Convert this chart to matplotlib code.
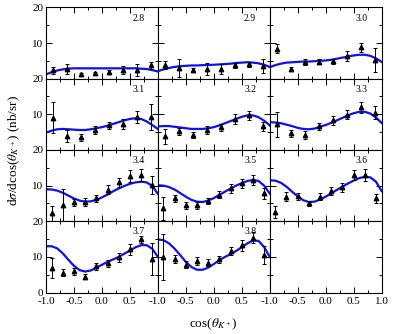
import numpy as np
import matplotlib
matplotlib.use("Agg")
import matplotlib.pyplot as plt

plt.rcParams['font.family'] = ['Liberation Serif', 'DejaVu Serif']
plt.rcParams['mathtext.fontset'] = 'stix'

# energy labels for each panel (GeV)
energies = ['2.8', '2.9', '3.0', '3.1', '3.2', '3.3', '3.4', '3.5', '3.6', '3.7', '3.8']

# data points: first two rows have 8 bins, the rest 10 bins
cos_8 = [-0.875, -0.625, -0.375, -0.125, 0.125, 0.375, 0.625, 0.875]
cos_10 = [-0.9, -0.7, -0.5, -0.3, -0.1, 0.1, 0.3, 0.5, 0.7, 0.9]

y_28 = [2.3, 2.7, 1.2, 1.5, 2.0, 2.5, 2.4, 3.7]
e_28 = [1.0, 1.3, 0.5, 0.4, 0.5, 1.1, 1.7, 1.0]
y_29 = [3.8, 3.0, 2.4, 2.7, 2.7, 3.7, 4.0, 3.6]
e_29 = [1.2, 2.5, 0.5, 1.7, 1.3, 0.7, 0.8, 2.0]
y_30 = [8.4, 2.7, 4.6, 4.8, 4.9, 6.4, 8.8, 5.3]
e_30 = [1.2, 0.5, 0.8, 0.8, 0.7, 1.4, 1.3, 3.3]
y_31 = [9.1, 4.0, 3.6, 5.6, 6.9, 7.3, 9.3, 9.2]
e_31 = [4.4, 1.7, 1.0, 1.0, 1.0, 1.3, 1.7, 3.7]
y_32 = [3.8, 5.2, 4.2, 5.6, 6.4, 8.7, 9.7, 6.6]
e_32 = [2.2, 1.0, 0.8, 1.0, 1.0, 1.3, 1.2, 1.3]
y_33 = [7.2, 4.7, 4.2, 6.6, 8.3, 9.9, 12.0, 10.5]
e_33 = [3.5, 1.0, 1.0, 1.0, 1.2, 1.3, 1.5, 1.8]
y_34 = [2.3, 4.5, 5.3, 5.4, 6.4, 8.9, 10.9, 12.8, 13.0, 10.1]
e_34 = [2.1, 4.5, 1.0, 1.0, 1.0, 1.2, 1.3, 1.7, 1.7, 2.5]
y_35 = [3.6, 6.4, 4.5, 4.5, 5.6, 7.5, 9.2, 10.6, 11.6, 7.8]
e_35 = [3.3, 1.0, 1.0, 1.0, 0.8, 1.0, 1.2, 1.3, 1.5, 1.5]
y_36 = [2.6, 6.9, 7.0, 5.0, 6.9, 8.5, 9.5, 13.0, 13.0, 6.4]
e_36 = [1.6, 1.3, 1.0, 0.8, 1.0, 1.2, 1.3, 1.5, 1.8, 1.3]
y_37 = [6.8, 5.6, 6.0, 4.5, 7.4, 8.2, 9.9, 12.1, 14.9, 9.3]
e_37 = [2.8, 1.0, 1.0, 0.7, 1.0, 1.0, 1.3, 1.5, 1.0, 4.5]
y_38 = [10.0, 9.4, 7.8, 8.8, 8.4, 9.3, 11.7, 13.3, 15.4, 10.6]
e_38 = [6.5, 1.2, 1.0, 1.2, 1.0, 1.0, 1.2, 1.5, 1.5, 2.5]

# model curves sampled every 0.1 in cos(theta)
cos_fit = [-1.0, -0.9, -0.8, -0.7, -0.6, -0.5, -0.4, -0.3, -0.2, -0.1, 0.0,
           0.1, 0.2, 0.3, 0.4, 0.5, 0.6, 0.7, 0.8, 0.9, 1.0]
f_28 = [1.2, 1.8, 2.3, 2.6, 2.8, 2.9, 2.9, 2.9, 2.9, 2.9, 2.9,
        2.9, 2.9, 2.9, 2.9, 2.9, 2.9, 2.8, 2.7, 2.4, 2.0]
f_29 = [2.1, 2.6, 3.0, 3.3, 3.5, 3.6, 3.7, 3.7, 3.8, 3.8, 3.9,
        4.0, 4.1, 4.2, 4.4, 4.5, 4.6, 4.5, 4.3, 3.9, 3.3]
f_30 = [3.2, 3.8, 4.2, 4.5, 4.6, 4.7, 4.8, 4.8, 4.9, 5.0, 5.1,
        5.3, 5.6, 5.9, 6.2, 6.5, 6.7, 6.7, 6.4, 5.7, 4.7]
f_31 = [4.9, 5.4, 5.8, 5.9, 5.8, 5.7, 5.6, 5.6, 5.8, 6.1, 6.4,
        6.8, 7.3, 7.8, 8.3, 8.7, 8.9, 8.7, 8.0, 7.0, 5.9]
f_32 = [6.6, 6.7, 6.7, 6.5, 6.3, 6.1, 5.9, 5.9, 5.9, 6.1, 6.4,
        6.9, 7.5, 8.1, 8.7, 9.3, 9.7, 9.7, 9.2, 8.2, 6.9]
f_33 = [7.8, 7.7, 7.5, 7.1, 6.7, 6.2, 5.9, 5.8, 6.0, 6.5, 7.0,
        7.6, 8.3, 9.0, 9.7, 10.3, 10.7, 10.7, 10.2, 9.1, 7.6]
f_34 = [9.0, 8.9, 8.6, 8.0, 7.2, 6.4, 5.8, 5.5, 5.6, 6.0, 6.7,
        7.5, 8.4, 9.2, 9.9, 10.5, 10.9, 11.1, 10.9, 9.9, 7.7]
f_35 = [10.1, 10.0, 9.6, 8.9, 7.9, 6.9, 6.0, 5.5, 5.4, 5.8, 6.5,
        7.4, 8.3, 9.2, 10.0, 10.7, 11.3, 11.6, 11.3, 10.0, 7.8]
f_36 = [11.5, 11.4, 10.8, 9.7, 8.3, 7.0, 5.9, 5.4, 5.5, 6.1, 6.9,
        7.8, 8.8, 9.7, 10.6, 11.4, 12.1, 12.5, 12.3, 11.1, 8.5]
f_37 = [13.0, 13.0, 12.4, 11.0, 9.2, 7.5, 6.3, 5.9, 6.2, 7.0, 7.8,
        8.6, 9.3, 10.0, 10.9, 11.8, 12.7, 13.3, 13.3, 12.3, 10.0]
f_38 = [14.9, 14.7, 13.8, 12.3, 10.5, 8.6, 7.2, 6.4, 6.4, 7.0, 8.0,
        9.1, 10.0, 10.8, 11.7, 12.7, 13.8, 14.6, 14.5, 12.8, 10.0]

data = [(cos_8, y_28, e_28, f_28), (cos_8, y_29, e_29, f_29), (cos_8, y_30, e_30, f_30),
        (cos_8, y_31, e_31, f_31), (cos_8, y_32, e_32, f_32), (cos_8, y_33, e_33, f_33),
        (cos_10, y_34, e_34, f_34), (cos_10, y_35, e_35, f_35), (cos_10, y_36, e_36, f_36),
        (cos_10, y_37, e_37, f_37), (cos_10, y_38, e_38, f_38)]

fig, axes = plt.subplots(4, 3, figsize=(3.95, 3.34), dpi=100)
fig.subplots_adjust(left=0.1165, right=0.966, top=0.978, bottom=0.124,
                    hspace=0, wspace=0)

for i, ax in enumerate(axes.flat):
    row, col = divmod(i, 3)
    if i < len(data):
        xs, ys, es, fs = data[i]
        ax.plot(cos_fit, fs, color='#1010ee', lw=1.6, zorder=2)
        ax.errorbar(xs, ys, yerr=es, fmt='^', color='black', ms=3.2,
                    elinewidth=0.7, capsize=1.5, capthick=0.7, zorder=3)
        ax.text(0.65, 17, energies[i], fontsize=7, ha='center', va='center')

    ax.set_xlim(-1, 1)
    ax.set_ylim(0, 20)
    ax.set_xticks([-1.0, -0.5, 0.0, 0.5, 1.0])
    ax.set_xticks([-0.75, -0.25, 0.25, 0.75], minor=True)
    ax.set_yticks([0, 10, 20])
    ax.set_yticks([5, 15], minor=True)
    ax.tick_params(which='both', direction='in', top=True, right=True,
                   labelsize=8, pad=2, width=0.7)
    ax.tick_params(axis='x', pad=3.5)
    ax.tick_params(which='major', length=4)
    ax.tick_params(which='minor', length=2.5)
    for sp in ax.spines.values():
        sp.set_linewidth(0.8)

    if col == 0:
        if row == 3:
            ax.set_yticklabels(['0', '10', '20'])
        else:
            ax.set_yticklabels(['', '10', '20'])
    else:
        ax.set_yticklabels([])
    if row == 3:
        if col == 2:
            ax.set_xticklabels(['-1.0', '-0.5', '0.0', '0.5', '1.0'])
        else:
            ax.set_xticklabels(['-1.0', '-0.5', '0.0', '0.5', ''])
    else:
        ax.set_xticklabels([])

fig.text(0.035, 0.55, r'd$\sigma$/dcos($\theta_{K^+}$) (nb/sr)', rotation=90,
         ha='center', va='center', fontsize=9.5)
fig.text(0.54, 0.03, r'cos($\theta_{K^+}$)', ha='center', va='center', fontsize=9.5)

fig.savefig('out.png', dpi=100)
